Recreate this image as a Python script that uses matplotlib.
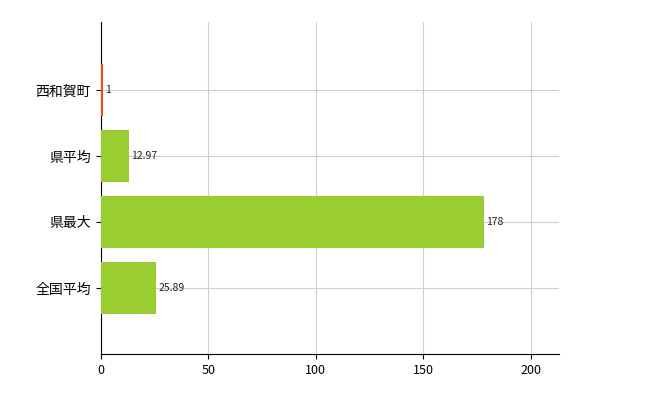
import matplotlib.pyplot as plt

plt.rcParams['font.family'] = ['Noto Sans CJK JP', 'DejaVu Sans']

categories = ["西和賀町", "県平均", "県最大", "全国平均"]
values = [1, 12.97, 178, 25.89]
labels = ["1", "12.97", "178", "25.89"]
colors = ["#FF4500", "#9ACD32", "#9ACD32", "#9ACD32"]

fig = plt.figure(figsize=(6.5, 4), dpi=100)
ax = fig.add_axes([0.155, 0.115, 0.705, 0.83])

pos = list(range(len(categories)))
ax.barh(pos, values, height=0.8, color=colors, zorder=3)
for p, v, t in zip(pos, values, labels):
    ax.text(v + 1, p, t, va="center", ha="left", fontsize=7.5, color="#222222", zorder=4)

ax.set_yticks(pos)
ax.set_yticklabels(categories, fontsize=10)
ax.set_xlim(0, 213)
ax.set_ylim(4, -1.03)
ax.set_xticks([0, 50, 100, 150, 200])
ax.tick_params(axis="x", labelsize=9)
ax.grid(True, color="#c8d0dc", linewidth=0.8, zorder=0)
for s in ["top", "right"]:
    ax.spines[s].set_visible(False)

fig.savefig("out.png", dpi=100)
